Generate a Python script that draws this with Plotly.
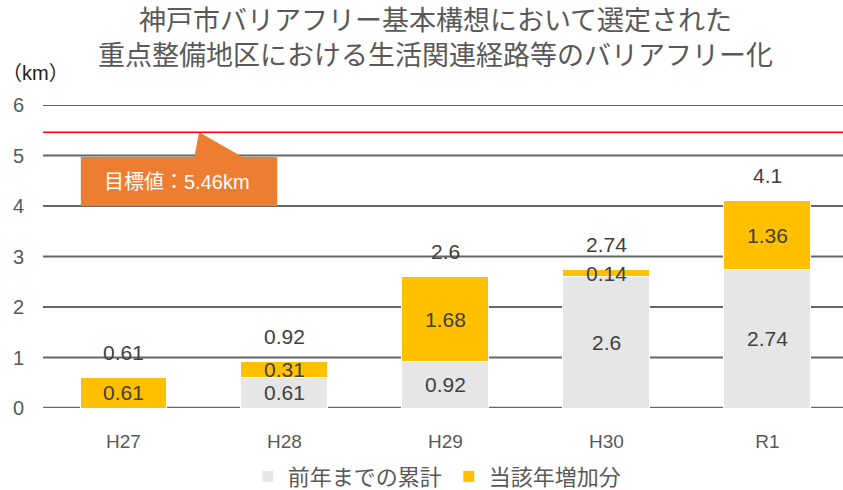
import plotly.graph_objects as go

categories = ["H27", "H28", "H29", "H30", "R1"]
prev_total = [0, 0.61, 0.92, 2.6, 2.74]
increase = [0.61, 0.31, 1.68, 0.14, 1.36]
totals = [0.61, 0.92, 2.6, 2.74, 4.1]
target = 5.46
y_ticks = [0, 1, 2, 3, 4, 5, 6]

FONT = "Liberation Sans, Arial, Noto Sans CJK JP, sans-serif"
TXT = "#404040"
GRAY = "#E6E6E6"
YEL = "#FFC000"
ORANGE = "#ED7D31"
GRID = "#666666"

fig = go.Figure()
fig.add_trace(go.Bar(
    x=categories, y=prev_total, name="前年までの累計",
    marker=dict(color=GRAY, line=dict(color="white", width=1)),
    width=0.54,
))
fig.add_trace(go.Bar(
    x=categories, y=increase, name="当該年増加分",
    marker=dict(color=YEL, line=dict(color="white", width=1)),
    width=0.54,
))

annotations = []
for i, c in enumerate(categories):
    if prev_total[i] > 0:
        annotations.append(dict(x=c, y=prev_total[i] / 2, text=f"{prev_total[i]:g}",
                                showarrow=False, font=dict(size=21, color=TXT, family=FONT)))
    annotations.append(dict(x=c, y=prev_total[i] + increase[i] / 2, text=f"{increase[i]:g}",
                            showarrow=False, font=dict(size=21, color=TXT, family=FONT)))
    annotations.append(dict(x=c, y=totals[i], text=f"{totals[i]:g}", yshift=25,
                            showarrow=False, font=dict(size=21, color=TXT, family=FONT)))

# target callout
annotations.append(dict(x=0.33, y=4.47, xref="x", yref="y", showarrow=False,
                        text="目標値：5.46km",
                        font=dict(size=20, color="white", family=FONT)))
# title
annotations.append(dict(x=0.49, y=1.0, xref="paper", yref="paper", yshift=67, yanchor="middle",
                        showarrow=False,
                        text="神戸市バリアフリー基本構想において選定された<br>重点整備地区における生活関連経路等のバリアフリー化",
                        font=dict(size=27, color="#595959", family=FONT)))
# unit label
annotations.append(dict(x=-0.054, y=1.0, xref="paper", yref="paper", yshift=32, xanchor="left",
                        yanchor="middle", showarrow=False, text="（km）",
                        font=dict(size=20, color="#202020", family=FONT)))

shapes = []
# gridlines from tick values
for t in y_ticks:
    shapes.append(dict(type="line", xref="paper", yref="y", x0=0, x1=1, y0=t, y1=t,
                       line=dict(color=GRID, width=2.5 if t == 0 else 2), layer="below"))
shapes += [
    dict(type="rect", xref="x", yref="y", x0=-0.265, x1=0.955, y0=4.0, y1=4.97,
         fillcolor=ORANGE, line=dict(width=0), layer="above"),
    dict(type="path", xref="x", yref="y",
         path="M 0.44 4.97 L 0.47 5.46 L 0.74 4.97 Z",
         fillcolor=ORANGE, line=dict(width=0), layer="above"),
    dict(type="line", xref="paper", yref="y", x0=0, x1=1, y0=target, y1=target,
         line=dict(color="#FF0000", width=1.5), layer="above"),
]

fig.update_layout(
    width=843, height=490,
    margin=dict(l=43, r=0, t=105, b=82, autoexpand=False),
    paper_bgcolor="white", plot_bgcolor="white",
    barmode="stack", bargap=0.46,
    font=dict(family=FONT, color="#595959"),
    showlegend=True,
    legend=dict(orientation="h", x=0.256, xanchor="left", y=-0.226, yanchor="middle",
                font=dict(size=22, color="#595959", family=FONT), traceorder="normal",
                entrywidth=156, entrywidthmode="pixels"),
    annotations=annotations,
    shapes=shapes,
)
fig.update_xaxes(range=[-0.5, 4.47], showgrid=False, ticks="outside", ticklen=16,
                 tickcolor="rgba(0,0,0,0)", tickfont=dict(size=19, color="#595959", family=FONT),
                 showline=False, zeroline=False, automargin=False)
fig.update_yaxes(range=[0, 6], tickvals=y_ticks, showgrid=False, zeroline=False,
                 ticks="", ticklabelstandoff=18, automargin=False,
                 tickfont=dict(size=20, color="#595959", family=FONT))

fig.write_html("out.html", config={"displayModeBar": False},
               post_script="document.body.style.margin='0';document.body.style.overflow='hidden';")
